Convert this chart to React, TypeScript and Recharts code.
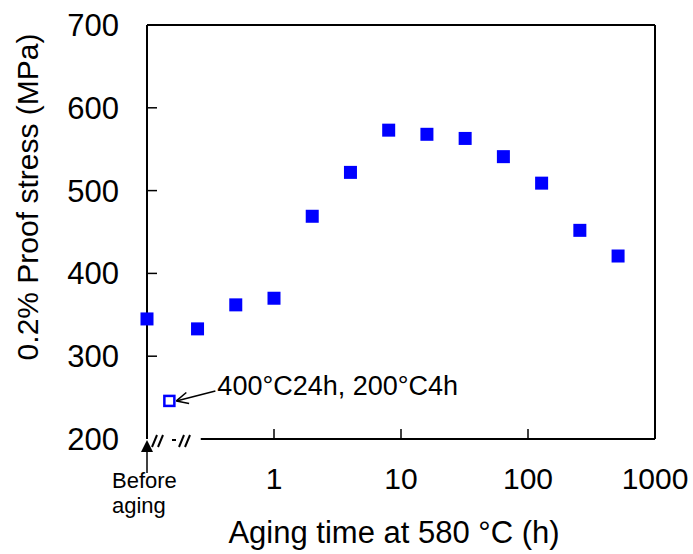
import { ScatterChart, Scatter, XAxis, YAxis, ReferenceLine, ReferenceDot } from 'recharts';

const FONT = '"Liberation Sans", Arial, sans-serif';
const BLUE = '#0000ff';

// aging time (h) at 580 C; 0.1 stands for "before aging"
const agingHours = [0.1, 0.25, 0.5, 1, 2, 4, 8, 16, 32, 64, 128, 256, 512];
const proofStress = [345, 333, 362, 370, 469, 522, 573, 568, 563, 541, 509, 452, 421];

// 400C 24h + 200C 4h treatment
const extraHours = [0.15];
const extraStress = [246];

const yTicks = [200, 300, 400, 500, 600, 700];
const xTicks = [1, 10, 100, 1000];

const aged = agingHours.map((t, i) => ({ t, v: proofStress[i] }));
const extra = extraHours.map((t, i) => ({ t, v: extraStress[i] }));

const FilledSquare = (p: any) => (
  <rect x={p.cx - 6.5} y={p.cy - 6.5} width={13} height={13} fill={BLUE} />
);

const OpenSquare = (p: any) => (
  <rect x={p.cx - 5} y={p.cy - 5} width={10} height={10} fill="#fff" stroke={BLUE} strokeWidth={2.5} />
);

const YTick = (p: any) => (
  <g>
    {p.payload.value !== 200 && (
      <line x1={p.x + 28} x2={p.x + 38} y1={p.y} y2={p.y} stroke="#000" strokeWidth={1.5} />
    )}
    <text x={p.x} y={p.y} dy="0.355em" textAnchor="end" fontSize={31} fontFamily={FONT} fill="#000">
      {p.payload.value}
    </text>
  </g>
);

const XTick = (p: any) => (
  <g>
    <line x1={p.x} x2={p.x} y1={p.y - 29} y2={p.y - 39} stroke="#000" strokeWidth={1.5} />
    <text x={p.x} y={p.y} dy="0.71em" textAnchor="middle" fontSize={30} fontFamily={FONT} fill="#000">
      {p.payload.value}
    </text>
  </g>
);

// arrow + "Before aging" + axis break marks, drawn around the origin corner
const BeforeAging = (p: any) => {
  const { cx, cy } = p;
  const slash = (x: number) => (
    <line key={x} x1={cx + x} y1={cy + 8} x2={cx + x + 5} y2={cy - 4} stroke="#000" strokeWidth={2} />
  );
  return (
    <g>
      <polygon points={`${cx},${cy + 1} ${cx - 6},${cy + 13} ${cx + 6},${cy + 13}`} fill="#000" />
      <line x1={cx} x2={cx} y1={cy + 13} y2={cy + 34} stroke="#000" strokeWidth={1.5} />
      {[5, 11, 32, 38].map(slash)}
      <line x1={cx + 25} x2={cx + 29} y1={cy + 1} y2={cy + 1} stroke="#000" strokeWidth={2} />
      <text x={cx - 35} y={cy + 49} fontSize={22} fontFamily={FONT} fill="#000">Before</text>
      <text x={cx - 35} y={cy + 74} fontSize={22} fontFamily={FONT} fill="#000">aging</text>
    </g>
  );
};

const ExtraNote = (p: any) => {
  const { cx, cy } = p;
  const tipX = cx + 7;
  const tipY = cy;
  const tailX = cx + 46;
  const tailY = cy - 10;
  const ang = Math.atan2(tailY - tipY, tailX - tipX);
  const head = (d: number) => (
    <line
      x1={tipX}
      y1={tipY}
      x2={tipX + 13 * Math.cos(ang + d)}
      y2={tipY + 13 * Math.sin(ang + d)}
      stroke="#000"
      strokeWidth={1.5}
    />
  );
  return (
    <g>
      <line x1={tipX} y1={tipY} x2={tailX} y2={tailY} stroke="#000" strokeWidth={1.5} />
      {head(0.45)}
      {head(-0.45)}
      <text x={cx + 48} y={cy - 6} fontSize={27} fontFamily={FONT} fill="#000">
        400°C24h, 200°C4h
      </text>
    </g>
  );
};

export default function App() {
  return (
    <div style={{ position: 'absolute', left: 0, top: 0, background: '#fff' }}>
      <ScatterChart width={693} height={554} margin={{ top: 25, right: 38, bottom: 0, left: 0 }}>
        <XAxis
          type="number"
          dataKey="t"
          scale="log"
          domain={[0.1, 1000]}
          ticks={xTicks}
          height={115}
          axisLine={false}
          tickLine={false}
          tickSize={0}
          tickMargin={29}
          tick={XTick}
          interval={0}
          label={{
            content: ({ viewBox }: any) => (
              <text
                x={viewBox.x + viewBox.width / 2 - 7}
                y={viewBox.y + 104}
                textAnchor="middle"
                fontSize={31}
                fontFamily={FONT}
                fill="#000"
              >
                Aging time at 580 °C (h)
              </text>
            ),
          }}
        />
        <YAxis
          type="number"
          dataKey="v"
          domain={[200, 700]}
          ticks={yTicks}
          width={147}
          axisLine={{ stroke: '#000', strokeWidth: 2 }}
          tickLine={false}
          tickSize={0}
          tickMargin={28}
          tick={YTick}
          interval={0}
          label={{
            content: ({ viewBox }: any) => {
              const x = 38;
              const y = viewBox.y + viewBox.height / 2 - 35;
              return (
                <text
                  x={x}
                  y={y}
                  transform={`rotate(-90, ${x}, ${y})`}
                  textAnchor="middle"
                  fontSize={30}
                  fontFamily={FONT}
                  fill="#000"
                >
                  0.2% Proof stress (MPa)
                </text>
              );
            },
          }}
        />
        <ReferenceLine y={700} stroke="#000" strokeWidth={2} />
        <ReferenceLine x={1000} stroke="#000" strokeWidth={2} />
        <ReferenceLine
          segment={[
            { x: 0.265, y: 200 },
            { x: 1000, y: 200 },
          ]}
          stroke="#000"
          strokeWidth={2}
        />
        <ReferenceDot x={0.1} y={200} r={0} shape={BeforeAging} />
        <ReferenceDot x={extraHours[0]} y={extraStress[0]} r={0} shape={ExtraNote} />
        <Scatter data={aged} shape={FilledSquare} isAnimationActive={false} />
        <Scatter data={extra} shape={OpenSquare} isAnimationActive={false} />
      </ScatterChart>
    </div>
  );
}
